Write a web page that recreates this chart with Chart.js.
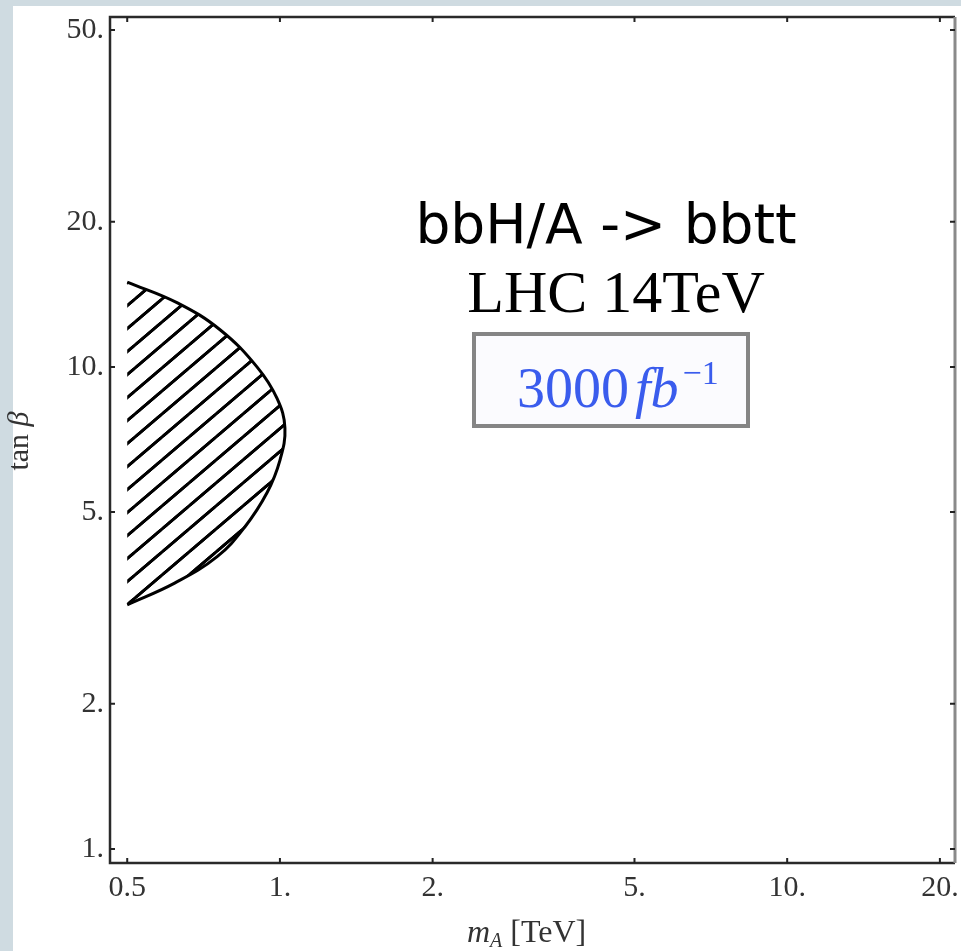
<!DOCTYPE html>
<html>
<head>
<meta charset="utf-8">
<script src="https://cdn.jsdelivr.net/npm/chart.js@4.4.1/dist/chart.umd.min.js"></script>
<style>
  html, body { margin: 0; padding: 0; background: #cfdbe1; }
  #wrap { width: 961px; height: 951px; }
</style>
</head>
<body>
<div id="wrap"><canvas id="exclusionChart" width="961" height="951"></canvas></div>
<script>
// axis ticks
const xTickValues = [0.5, 1, 2, 5, 10, 20];
const xTickLabels = ['0.5', '1.', '2.', '5.', '10.', '20.'];
const yTickValues = [1, 2, 5, 10, 20, 50];
const yTickLabels = ['1.', '2.', '5.', '10.', '20.', '50.'];

// boundary of the hatched region (m_A in TeV, tan beta)
const massTeV = [0.50, 0.628, 0.763, 0.901, 0.987, 1.023, 1.00, 0.943, 0.852, 0.752, 0.62, 0.50];
const tanBeta = [15.0, 13.58, 11.93, 10.0, 8.6, 7.47, 6.4, 5.48, 4.65, 4.04, 3.56, 3.21];

// diagonal hatch pattern
function makeHatch() {
    const w = 27, h = 23;
    const c = document.createElement('canvas');
    c.width = w;
    c.height = h;
    const g = c.getContext('2d');
    g.strokeStyle = '#000';
    g.lineWidth = 2.7;
    for (let dx = -1; dx <= 1; dx++) {
        for (let dy = -1; dy <= 1; dy++) {
            g.beginPath();
            g.moveTo(dx * w - w, dy * h + 2 * h);
            g.lineTo(dx * w + 2 * w, dy * h - h);
            g.stroke();
        }
    }
    return g.createPattern(c, 'repeat');
}

const regionPoints = massTeV.map((m, i) => ({ x: m, y: tanBeta[i] }));

// page background, frame, inner ticks and annotations
const decorations = {
    id: 'decorations',
    beforeDraw(chart) {
        const ctx = chart.ctx;
        ctx.save();
        ctx.fillStyle = '#cfdbe1';
        ctx.fillRect(0, 0, chart.width, chart.height);
        ctx.fillStyle = '#ffffff';
        ctx.fillRect(13, 6, chart.width - 13, chart.height - 6);
        ctx.restore();
    },
    afterDraw(chart) {
        const ctx = chart.ctx;
        const a = chart.chartArea;
        const xs = chart.scales.x;
        const ys = chart.scales.y;
        ctx.save();

        // frame
        ctx.lineWidth = 2.5;
        ctx.strokeStyle = '#2a2a2a';
        ctx.beginPath();
        ctx.moveTo(a.right, a.top);
        ctx.lineTo(a.left, a.top);
        ctx.lineTo(a.left, a.bottom);
        ctx.lineTo(a.right, a.bottom);
        ctx.stroke();
        ctx.strokeStyle = '#8a8a8a';
        ctx.lineWidth = 3;
        ctx.beginPath();
        ctx.moveTo(a.right, a.top);
        ctx.lineTo(a.right, a.bottom);
        ctx.stroke();

        // inner tick marks on all four sides
        ctx.strokeStyle = '#222';
        ctx.lineWidth = 2;
        const tl = 5;
        xTickValues.forEach(v => {
            const px = xs.getPixelForValue(v);
            ctx.beginPath();
            ctx.moveTo(px, a.bottom);
            ctx.lineTo(px, a.bottom - tl);
            ctx.moveTo(px, a.top);
            ctx.lineTo(px, a.top + tl);
            ctx.stroke();
        });
        yTickValues.forEach(v => {
            const py = ys.getPixelForValue(v);
            ctx.beginPath();
            ctx.moveTo(a.left, py);
            ctx.lineTo(a.left + tl, py);
            ctx.moveTo(a.right, py);
            ctx.lineTo(a.right - tl, py);
            ctx.stroke();
        });

        // axis titles
        ctx.fillStyle = '#333';
        ctx.textBaseline = 'alphabetic';
        ctx.textAlign = 'left';
        let x = 467;
        const yb = 942;
        ctx.font = 'italic 32px "Liberation Serif"';
        ctx.fillText('m', x, yb);
        x += ctx.measureText('m').width;
        ctx.font = 'italic 20px "Liberation Serif"';
        ctx.fillText('A', x, yb + 5);
        x += ctx.measureText('A').width + 8;
        ctx.font = '32px "Liberation Serif"';
        ctx.fillText('[TeV]', x, yb);

        ctx.save();
        ctx.translate(28, 441);
        ctx.rotate(-Math.PI / 2);
        ctx.font = '30px "Liberation Serif"';
        const w1 = ctx.measureText('tan ').width;
        ctx.font = 'italic 30px "Liberation Serif"';
        const w2 = ctx.measureText('\u03b2').width;
        ctx.font = '30px "Liberation Serif"';
        ctx.fillText('tan ', -(w1 + w2) / 2, 0);
        ctx.font = 'italic 30px "Liberation Serif"';
        ctx.fillText('\u03b2', -(w1 + w2) / 2 + w1, 0);
        ctx.restore();

        // annotation
        ctx.fillStyle = '#000';
        ctx.textAlign = 'center';
        ctx.font = '55px "DejaVu Sans"';
        ctx.fillText('bbH/A -> bbtt', 606, 243);
        ctx.font = '60px "Liberation Serif"';
        ctx.fillText('LHC 14TeV', 616, 312);

        ctx.fillStyle = '#fbfbfe';
        ctx.fillRect(472, 332, 278, 96);
        ctx.strokeStyle = '#858585';
        ctx.lineWidth = 4;
        ctx.strokeRect(474, 334, 274, 92);

        ctx.fillStyle = '#3a5ced';
        ctx.textAlign = 'left';
        let bx = 517;
        ctx.font = '56px "Liberation Serif"';
        ctx.fillText('3000', bx, 407);
        bx += ctx.measureText('3000').width + 6;
        ctx.font = 'italic 56px "Liberation Serif"';
        ctx.fillText('fb', bx, 407);
        bx += ctx.measureText('fb').width + 4;
        ctx.font = '34px "Liberation Serif"';
        ctx.fillText('\u22121', bx, 384);

        ctx.restore();
    }
};

const ctx = document.getElementById('exclusionChart').getContext('2d');
const chart = new Chart(ctx, {
    type: 'scatter',
    data: {
        datasets: [{
            label: 'excluded',
            data: regionPoints,
            showLine: true,
            borderColor: '#000',
            borderWidth: 3,
            backgroundColor: makeHatch(),
            fill: 'shape',
            tension: 0.4,
            pointRadius: 0,
        }],
    },
    options: {
        responsive: false,
        animation: false,
        layout: { padding: { top: 17, right: 6, left: 0, bottom: 0 } },
        plugins: {
            legend: { display: false },
            tooltip: { enabled: false },
        },
        scales: {
            x: {
                type: 'logarithmic',
                min: 0.4624,
                max: 21.42,
                grid: { display: false, drawTicks: false },
                border: { display: false },
                afterBuildTicks: scale => {
                    scale.ticks = xTickValues.map(v => ({ value: v }));
                },
                afterFit: scale => {
                    scale.height = 88;
                    scale.paddingLeft = 0;
                    scale.paddingRight = 0;
                },
                ticks: {
                    autoSkip: false,
                    maxRotation: 0,
                    padding: 7,
                    color: '#333',
                    font: { family: 'Liberation Serif', size: 30 },
                    callback: (v, i) => xTickLabels[i],
                },
            },
            y: {
                type: 'logarithmic',
                min: 0.935,
                max: 53.2,
                grid: { display: false, drawTicks: false },
                border: { display: false },
                afterBuildTicks: scale => {
                    scale.ticks = yTickValues.map(v => ({ value: v }));
                },
                afterFit: scale => {
                    scale.width = 110;
                    scale.paddingTop = 0;
                    scale.paddingBottom = 0;
                },
                ticks: {
                    autoSkip: false,
                    padding: 6,
                    color: '#333',
                    font: { family: 'Liberation Serif', size: 30 },
                    callback: (v, i) => yTickLabels[i],
                },
            },
        },
    },
    plugins: [decorations],
});
</script>
</body>
</html>
